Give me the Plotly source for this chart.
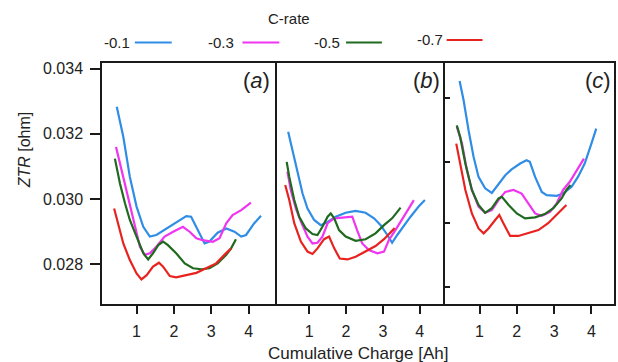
import plotly.graph_objects as go

# ---------------- data ----------------
rates = ["-0.1", "-0.3", "-0.5", "-0.7"]
colors = ["#2f8de6", "#f035f0", "#1f6a1f", "#e8231f"]
panel_labels = ["a", "b", "c"]
x_ticks = [1, 2, 3, 4]
y_ticks = [0.028, 0.030, 0.032, 0.034]
y_tick_text = ["0.028", "0.030", "0.032", "0.034"]
c_inner_ticks = [0.027306, 0.029265, 0.031132, 0.033091]

# panel (a)
a_q_01 = [0.47, 0.645, 0.82, 1.0, 1.18, 1.355, 1.53, 1.8, 2.06, 2.33, 2.46, 2.64, 2.82, 2.95, 3.17, 3.4, 3.62, 3.8, 3.93, 4.15, 4.33]
a_z_01 = [0.03283, 0.03191, 0.03068, 0.02977, 0.02915, 0.02885, 0.0289, 0.0291, 0.0293, 0.02948, 0.02946, 0.02905, 0.02864, 0.0287, 0.02897, 0.0291, 0.029, 0.02885, 0.0289, 0.02926, 0.02949]
a_q_03 = [0.45, 0.556, 0.69, 0.82, 0.956, 1.09, 1.22, 1.355, 1.53, 1.75, 1.98, 2.24, 2.42, 2.6, 2.77, 3.04, 3.22, 3.4, 3.57, 3.8, 4.06]
a_z_03 = [0.0316, 0.03109, 0.03048, 0.02987, 0.02915, 0.02854, 0.02829, 0.02834, 0.02854, 0.02885, 0.029, 0.02915, 0.029, 0.0288, 0.02874, 0.02869, 0.0288, 0.02926, 0.02951, 0.02966, 0.02989]
a_q_05 = [0.42, 0.556, 0.69, 0.82, 1.0, 1.18, 1.31, 1.44, 1.58, 1.71, 1.84, 2.06, 2.29, 2.51, 2.73, 2.95, 3.17, 3.4, 3.53, 3.66]
a_z_05 = [0.03124, 0.03048, 0.02987, 0.02936, 0.02885, 0.02834, 0.02815, 0.02834, 0.02859, 0.0287, 0.02859, 0.02834, 0.02803, 0.02788, 0.02785, 0.02788, 0.02803, 0.02829, 0.02849, 0.02877]
a_q_07 = [0.4, 0.51, 0.645, 0.82, 1.0, 1.13, 1.27, 1.44, 1.6, 1.71, 1.89, 2.06, 2.33, 2.6, 2.86, 3.13, 3.35, 3.53]
a_z_07 = [0.02971, 0.02926, 0.02864, 0.02813, 0.02772, 0.02754, 0.02767, 0.02793, 0.02805, 0.02793, 0.02764, 0.0276, 0.02767, 0.02774, 0.02788, 0.02803, 0.02829, 0.02849]

# panel (b)
b_q_01 = [0.43, 0.55, 0.685, 0.82, 0.955, 1.135, 1.315, 1.5, 1.72, 1.99, 2.26, 2.53, 2.76, 2.94, 3.12, 3.25, 3.39, 3.57, 3.75, 3.97, 4.14]
b_z_01 = [0.03206, 0.0315, 0.03079, 0.03017, 0.02971, 0.02936, 0.0292, 0.0293, 0.02946, 0.02958, 0.02964, 0.02958, 0.02941, 0.0292, 0.0289, 0.02866, 0.0289, 0.0292, 0.02946, 0.02977, 0.02997]
b_q_03 = [0.41, 0.5, 0.64, 0.775, 0.955, 1.09, 1.225, 1.36, 1.5, 1.68, 1.9, 2.17, 2.3, 2.44, 2.62, 2.85, 3.03, 3.16, 3.34, 3.52, 3.7, 3.84]
b_z_03 = [0.03084, 0.03028, 0.02971, 0.02931, 0.02885, 0.02864, 0.02866, 0.02885, 0.02926, 0.02941, 0.02943, 0.02946, 0.02905, 0.02864, 0.02844, 0.02834, 0.02839, 0.02874, 0.02905, 0.02936, 0.02971, 0.02997]
b_q_05 = [0.39, 0.46, 0.595, 0.73, 0.91, 1.09, 1.225, 1.36, 1.5, 1.585, 1.68, 1.81, 1.99, 2.26, 2.53, 2.8, 3.03, 3.25, 3.39, 3.48]
b_z_05 = [0.03114, 0.03068, 0.02997, 0.02946, 0.0291, 0.02893, 0.0289, 0.02915, 0.02946, 0.02956, 0.02941, 0.02905, 0.02885, 0.02872, 0.02877, 0.02895, 0.0292, 0.02941, 0.02961, 0.02974]
b_q_07 = [0.35, 0.46, 0.595, 0.775, 0.955, 1.09, 1.225, 1.405, 1.54, 1.68, 1.83, 2.04, 2.26, 2.53, 2.8, 3.03, 3.21, 3.32]
b_z_07 = [0.03043, 0.02997, 0.02926, 0.0287, 0.02839, 0.02832, 0.02849, 0.02877, 0.02885, 0.02849, 0.02818, 0.02815, 0.02823, 0.02839, 0.02856, 0.02877, 0.029, 0.02911]

# panel (c)
c_q_01 = [0.466, 0.573, 0.706, 0.84, 0.973, 1.15, 1.33, 1.46, 1.69, 1.86, 2.09, 2.26, 2.35, 2.49, 2.67, 2.8, 3.07, 3.24, 3.47, 3.64, 3.82, 4.0, 4.13]
c_z_01 = [0.03362, 0.03303, 0.03211, 0.0313, 0.03068, 0.03033, 0.03019, 0.03038, 0.03073, 0.03091, 0.03109, 0.03119, 0.03114, 0.03068, 0.03022, 0.03012, 0.0301, 0.03017, 0.03038, 0.03068, 0.03109, 0.0317, 0.03216]
c_q_03 = [0.39, 0.53, 0.66, 0.795, 0.973, 1.15, 1.33, 1.51, 1.69, 1.91, 2.13, 2.31, 2.49, 2.67, 2.89, 3.07, 3.24, 3.42, 3.64, 3.8]
c_z_03 = [0.03223, 0.0317, 0.03089, 0.03028, 0.02977, 0.02958, 0.02966, 0.02997, 0.03022, 0.03028, 0.03017, 0.02987, 0.02956, 0.02949, 0.02961, 0.02987, 0.03028, 0.03053, 0.03094, 0.03124]
c_q_05 = [0.39, 0.48, 0.62, 0.795, 0.973, 1.15, 1.33, 1.51, 1.6, 1.78, 2.0, 2.22, 2.49, 2.75, 2.98, 3.2, 3.33, 3.44]
c_z_05 = [0.03226, 0.03191, 0.03109, 0.03028, 0.02982, 0.02958, 0.02972, 0.03002, 0.03007, 0.02982, 0.02956, 0.02941, 0.02944, 0.02954, 0.02972, 0.03002, 0.03028, 0.03043]
c_q_07 = [0.376, 0.48, 0.62, 0.795, 0.973, 1.11, 1.24, 1.42, 1.53, 1.64, 1.82, 2.04, 2.31, 2.58, 2.84, 3.07, 3.22, 3.33]
c_z_07 = [0.0317, 0.03109, 0.03028, 0.02956, 0.0291, 0.02895, 0.0291, 0.02936, 0.02951, 0.02926, 0.02887, 0.02887, 0.02895, 0.02905, 0.02926, 0.02951, 0.02968, 0.02982]

panels = [
    [(a_q_01, a_z_01), (a_q_03, a_z_03), (a_q_05, a_z_05), (a_q_07, a_z_07)],
    [(b_q_01, b_z_01), (b_q_03, b_z_03), (b_q_05, b_z_05), (b_q_07, b_z_07)],
    [(c_q_01, c_z_01), (c_q_03, c_z_03), (c_q_05, c_z_05), (c_q_07, c_z_07)],
]

# ---------------- layout geometry ----------------
W, H = 618, 362
L, R, T, B = 102, 2, 63, 58
PW, PH = W - L - R, H - T - B

def px(X):
    return (X - L) / PW

def py(Y):
    return (H - B - Y) / PH

FONT = "Liberation Sans, Arial, sans-serif"
fig = go.Figure()

axis_names = ["", "2", "3"]
for p, series in enumerate(panels):
    for s, (q, z) in enumerate(series):
        fig.add_trace(go.Scatter(
            x=q, y=z, mode="lines",
            line=dict(color=colors[s], width=2.2),
            xaxis="x" + axis_names[p], yaxis="y" + axis_names[p],
            showlegend=False, name=rates[s],
        ))

domains = [[0, px(275.5)], [px(275.5), px(446)], [px(446), 1]]
x_ranges = [[0.075, 4.70], [0.068, 4.676], [0.065, 4.606]]
y_range = [0.026785, 0.03417]

common_line = dict(showline=True, linecolor="#1a1a1a", linewidth=1.5, mirror=True,
                   showgrid=False, zeroline=False)

for p in range(3):
    xa = dict(common_line, domain=domains[p], range=x_ranges[p],
              tickvals=x_ticks, ticktext=[str(v) for v in x_ticks],
              ticks="outside", ticklen=8, tickwidth=1.5, tickcolor="#1a1a1a",
              tickfont=dict(family=FONT, size=16, color="#222"),
              anchor="y" + axis_names[p], ticklabelstandoff=4)
    fig.layout["xaxis" + axis_names[p]] = xa
    if p == 0:
        ya = dict(common_line, domain=[0, 1], range=y_range,
                  tickvals=y_ticks, ticktext=y_tick_text,
                  ticks="outside", ticklen=10, tickwidth=1.5, tickcolor="#1a1a1a",
                  tickfont=dict(family=FONT, size=16, color="#222"),
                  anchor="x", ticklabelstandoff=4)
    elif p == 1:
        # vertical borders of (b) are drawn by the neighbouring panels
        ya = dict(showline=False, showgrid=False, zeroline=False, domain=[0, 1],
                  range=y_range, showticklabels=False, ticks="", anchor="x2")
    else:
        ya = dict(common_line, domain=[0, 1], range=y_range,
                  tickvals=c_inner_ticks, showticklabels=False,
                  ticks="inside", ticklen=6, tickwidth=1.5, tickcolor="#1a1a1a",
                  anchor="x3")
    fig.layout["yaxis" + axis_names[p]] = ya

annotations = []
# panel labels
for X, lab in zip([273, 443.5, 615], panel_labels):
    annotations.append(dict(xref="paper", yref="paper", x=px(X), y=py(81),
                            xanchor="right", yanchor="middle", showarrow=False,
                            text="(<i>" + lab + "</i>)",
                            font=dict(family=FONT, size=22, color="#222")))
# axis titles
annotations.append(dict(xref="paper", yref="paper", x=px(359), y=py(353),
                        xanchor="center", yanchor="middle", showarrow=False,
                        text="Cumulative Charge [Ah]",
                        font=dict(family=FONT, size=17, color="#222")))
annotations.append(dict(xref="paper", yref="paper", x=px(24), y=py(150),
                        xanchor="center", yanchor="middle", showarrow=False,
                        textangle=-90, text="<i>ZTR</i> [ohm]",
                        font=dict(family=FONT, size=16, color="#222")))
# legend (text then line sample)
annotations.append(dict(xref="paper", yref="paper", x=px(290), y=py(18),
                        xanchor="center", yanchor="middle", showarrow=False,
                        text="C-rate", font=dict(family=FONT, size=15, color="#222")))
leg_text_right = [132, 237, 343, 446]
leg_line = [(135, 172), (243, 280), (347, 383), (448, 484)]
leg_y = [42, 42, 42, 39.5]
shapes = []
for i in range(4):
    annotations.append(dict(xref="paper", yref="paper", x=px(leg_text_right[i]), y=py(leg_y[i]),
                            xanchor="right", yanchor="middle", showarrow=False,
                            text=rates[i], font=dict(family=FONT, size=15, color="#222")))
    shapes.append(dict(type="line", xref="paper", yref="paper",
                       x0=px(leg_line[i][0]), x1=px(leg_line[i][1]),
                       y0=py(leg_y[i] + 0.5), y1=py(leg_y[i] + 0.5),
                       line=dict(color=colors[i], width=2)))

fig.update_layout(
    width=W, height=H,
    margin=dict(l=L, r=R, t=T, b=B, pad=0),
    paper_bgcolor="white", plot_bgcolor="white",
    showlegend=False,
    annotations=annotations, shapes=shapes,
    font=dict(family=FONT, color="#222"),
)

fig.write_html("out.html", config={"displayModeBar": False})
